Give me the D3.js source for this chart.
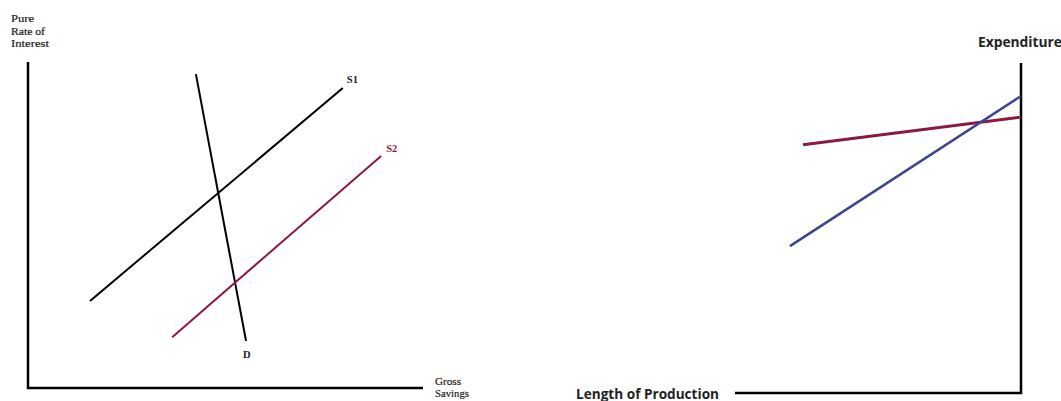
<!DOCTYPE html>
<html><head><meta charset="utf-8">
<script src="https://cdn.jsdelivr.net/npm/d3@7"></script>
<style>html,body{margin:0;padding:0;background:#fff;overflow:hidden}</style>
</head><body>
<svg id="c" width="1061" height="401"></svg>
<script>
// Left panel: savings market (abstract units 0-100)
const s1X = [15.7, 79.7], s1Y = [26.7, 92.0];
const dX = [42.5, 55.2], dY = [96.3, 14.4];
const s2X = [36.5, 89.4], s2Y = [15.6, 71.2];
const leftLabels = ["S1", "S2", "D"];
const yTitle = ["Pure", "Rate of", "Interest"];
const xTitle = ["Gross", "Savings"];
// Right panel (abstract units 0-100)
const redX = [23.8, 100], redY = [75.2, 83.6];
const blueX = [19.2, 100], blueY = [44.5, 90.0];
const rightX = "Length of Production", rightY = "Expenditure";

const svg = d3.select("#c");
const RED = "#8a1a40", BLUE = "#40448f";

const xL = d3.scaleLinear().domain([0,100]).range([28, 423]);
const yL = d3.scaleLinear().domain([0,100]).range([388, 62]);
const xR = d3.scaleLinear().domain([0,100]).range([735, 1021]);
const yR = d3.scaleLinear().domain([0,100]).range([393, 63]);

const line = (xs, ys, sx, sy) => d3.line()(xs.map((v,i)=>[sx(v), sy(ys[i])]));

// Left axes
svg.append("path").attr("d", d3.line()([[xL(0), yL(100)],[xL(0), yL(0)],[xL(100), yL(0)]]))
  .attr("fill","none").attr("stroke","#000").attr("stroke-width",2.5);

svg.append("path").attr("d", line(s1X, s1Y, xL, yL)).attr("stroke","#000").attr("stroke-width",2).attr("fill","none");
svg.append("path").attr("d", line(dX, dY, xL, yL)).attr("stroke","#000").attr("stroke-width",2).attr("fill","none");
svg.append("path").attr("d", line(s2X, s2Y, xL, yL)).attr("stroke",RED).attr("stroke-width",2).attr("fill","none");

const serif = "'Liberation Serif', 'DejaVu Serif', serif";
svg.append("text").attr("x", xL(s1X[1]) + 4).attr("y", 83).text(leftLabels[0])
  .attr("font-family", serif).attr("font-size", 10.5).attr("font-weight","bold").attr("fill","#222");
svg.append("text").attr("x", xL(s2X[1]) + 5).attr("y", 152).text(leftLabels[1])
  .attr("font-family", serif).attr("font-size", 10.5).attr("font-weight","bold").attr("fill",RED);
svg.append("text").attr("x", xL(dX[1]) - 3).attr("y", 358).text(leftLabels[2])
  .attr("font-family", serif).attr("font-size", 10.5).attr("font-weight","bold").attr("fill","#222");

const yTitleW = [23, 34, 38];
yTitle.forEach((t,i)=>{
  svg.append("text").attr("x", 11).attr("y", 22 + i*12.6).text(t)
    .attr("font-family", serif).attr("font-size", 11).attr("fill","#1a1a1a")
    .attr("stroke","#1a1a1a").attr("stroke-width",0.2)
    .attr("textLength", yTitleW[i]).attr("lengthAdjust","spacingAndGlyphs");
});
const xTitleW = [26, 34];
xTitle.forEach((t,i)=>{
  svg.append("text").attr("x", 435).attr("y", 385 + i*12).text(t)
    .attr("font-family", serif).attr("font-size", 11).attr("fill","#1a1a1a")
    .attr("stroke","#1a1a1a").attr("stroke-width",0.2)
    .attr("textLength", xTitleW[i]).attr("lengthAdjust","spacingAndGlyphs");
});

// Right axes
svg.append("path").attr("d", d3.line()([[xR(0), yR(0)],[xR(100), yR(0)],[xR(100), yR(100)]]))
  .attr("fill","none").attr("stroke","#000").attr("stroke-width",2.5);
svg.append("path").attr("d", line(redX, redY, xR, yR)).attr("stroke",RED).attr("stroke-width",3).attr("fill","none");
svg.append("path").attr("d", line(blueX, blueY, xR, yR)).attr("stroke",BLUE).attr("stroke-width",2.5).attr("fill","none");

const sans = "'Open Sans', 'Liberation Sans', sans-serif";
svg.append("text").attr("x", 576).attr("y", 398.5).text(rightX)
  .attr("font-family", sans).attr("font-size", 13.5).attr("font-weight","bold").attr("fill","#222")
  .attr("textLength", 143).attr("lengthAdjust","spacingAndGlyphs");
svg.append("text").attr("x", 978).attr("y", 46.5).text(rightY)
  .attr("font-family", sans).attr("font-size", 13.5).attr("font-weight","bold").attr("fill","#222")
  .attr("textLength", 84).attr("lengthAdjust","spacingAndGlyphs");
</script>
</body></html>
